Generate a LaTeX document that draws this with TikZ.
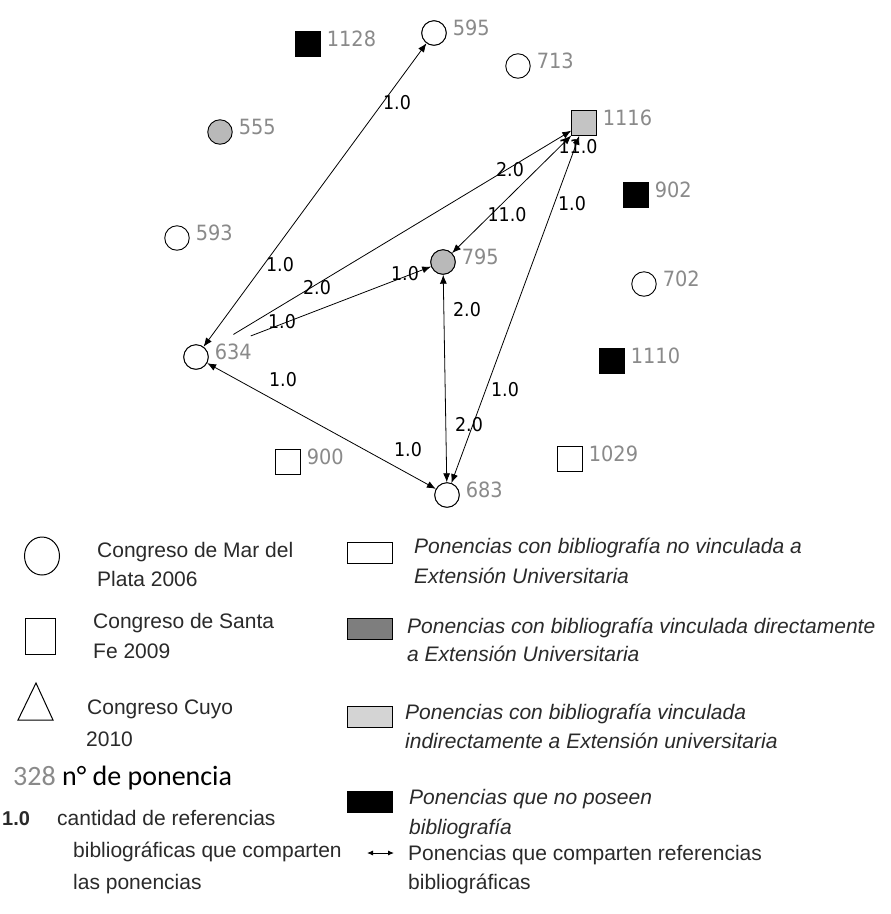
\documentclass[tikz,border=0pt]{standalone}
\usepackage{fontspec}
\setmainfont{Liberation Sans}
\newfontfamily\nodefont[FakeStretch=0.92]{DejaVu Sans}
\newfontfamily\calfont{Carlito}
\usetikzlibrary{arrows.meta,shapes.geometric}
\definecolor{labgray}{HTML}{8A8A8A}
\definecolor{midgray}{HTML}{B9B9B9}
\definecolor{ltgray}{HTML}{C4C4C4}
\definecolor{legdark}{HTML}{7E7E7E}
\definecolor{leglight}{HTML}{D4D4D4}
\definecolor{legtext}{HTML}{2A2A2A}
\tikzset{
  circ/.style={circle, draw, line width=0.9pt, minimum size=24.5pt, inner sep=0pt, fill=white},
  sq/.style={rectangle, draw, line width=0.9pt, minimum size=24.5pt, inner sep=0pt, fill=white},
  nlab/.style={anchor=west, inner sep=0pt, text=labgray, font=\nodefont\fontsize{21}{21}\selectfont},
  elab/.style={inner sep=0pt, text=black, font=\nodefont\fontsize{19}{19}\selectfont},
  arr/.style={-{Latex[length=9pt,width=7pt]}, line width=0.8pt},
  biarr/.style={{Latex[length=9pt,width=7pt]}-{Latex[length=9pt,width=7pt]}, line width=0.8pt},
  ltext/.style={anchor=base west, inner sep=0pt, text=legtext, font=\fontsize{21}{21}\selectfont},
  rtext/.style={anchor=base west, inner sep=0pt, text=legtext, font=\itshape\fontsize{21}{21}\selectfont},
  legbox/.style={draw, line width=1pt, minimum width=45pt, minimum height=21pt, inner sep=0pt},
}
\begin{document}
\begin{tikzpicture}[x=1pt,y=-1pt]
\fill[white] (0,0) rectangle (891,914);
\useasboundingbox (0,0) rectangle (891,914);

% ---------- graph nodes ----------
\node[sq, fill=black] (n1128) at (308,44) {};
\node[circ] (n595) at (434,33) {};
\node[circ, fill=midgray] (n555) at (220,132) {};
\node[circ] (n713) at (518,66) {};
\node[sq, fill=ltgray] (n1116) at (584,123) {};
\node[sq, fill=black] (n902) at (636,195) {};
\node[circ] (n593) at (177,238) {};
\node[circ, fill=midgray] (n795) at (443,262) {};
\node[circ] (n702) at (644,284) {};
\node[circ] (n634) at (196,357) {};
\node[sq, fill=black] (n1110) at (612,361) {};
\node[sq] (n900) at (288,462) {};
\node[sq] (n1029) at (570,459) {};
\node[circ] (n683) at (447,495) {};

% ---------- connectors ----------
\draw[biarr] (n634) -- (n595);
\draw[arr, shorten <=31pt] (n634) -- (n1116);
\draw[arr, shorten <=46pt] (n634) -- (n795);
\draw[biarr] (n634) -- (n683);
\draw[biarr] (n795) -- (n683);
\draw[biarr] (n1116) -- (n683);
\draw[biarr] (n795) -- (n1116);

% redraw nodes on top
\node[sq, fill=ltgray] at (n1116) {};
\node[circ, fill=midgray] at (n795) {};
\node[circ] at (n634) {};
\node[circ] at (n683) {};
\node[circ] at (n595) {};

% ---------- node labels ----------
\foreach \n in {1128,595,555,713,1116,902,593,795,702,634,1110,900,1029,683}{
  \node[nlab] (l\n) at ([xshift=6pt,yshift=5pt]n\n.east) {\n};
}

% ---------- connector labels ----------
\node[elab] (e1a) at (397,103) {1.0};
\node[elab] (e1b) at (280,265) {1.0};
\node[elab] (e2a) at (510,170) {2.0};
\node[elab] (e2b) at (317,288) {2.0};
\node[elab] (e3a) at (405,274) {1.0};
\node[elab] (e3b) at (282,322) {1.0};
\node[elab] (e4a) at (283,380) {1.0};
\node[elab] (e4b) at (408,450) {1.0};
\node[elab] (e5a) at (467,310) {2.0};
\node[elab] (e5b) at (469,425) {2.0};
\node[elab] (e6a) at (572,204) {1.0};
\node[elab] (e6b) at (505,390) {1.0};
\node[elab] (e7a) at (507,215) {11.0};
\node[elab] (e7b) at (578,147) {11.0};

% ---------- legend, left column ----------
\node[draw, ellipse, line width=1pt, minimum width=35pt, minimum height=38pt, inner sep=0pt] (legC) at (42,556) {};
\node[ltext] (t1) at (97,557) {Congreso de Mar del};
\node[ltext] (t2) at (97,586) {Plata 2006};
\node[draw, line width=1pt, minimum width=30pt, minimum height=36pt, inner sep=0pt] (legS) at (40,636) {};
\node[ltext] (t3) at (93,628) {Congreso de Santa};
\node[ltext] (t4) at (93,658) {Fe 2009};
\draw[line width=1pt] (18,720) -- (36,683) -- (53,720) -- cycle;
\node[ltext] (t5) at (87,714) {Congreso Cuyo};
\node[ltext] (t6) at (86,746) {2010};
\node[anchor=base west, inner sep=0pt, font=\calfont\fontsize{28}{28}\selectfont] (t7) at (13,785) {\textcolor{labgray}{328} n° de ponencia};
\node[anchor=base west, inner sep=0pt, text=legtext, font=\bfseries\fontsize{20}{20}\selectfont] (t8) at (2,825) {1.0};
\node[ltext] (t9) at (57,825) {cantidad de referencias};
\node[ltext] (t10) at (73,857) {bibliográficas que comparten};
\node[ltext] (t11) at (73,889) {las ponencias};

% ---------- legend, right column ----------
\node[legbox, fill=white] (b1) at (370,553) {};
\node[rtext] (r1) at (414,553) {Ponencias con bibliografía no vinculada a};
\node[rtext] (r2) at (414,583) {Extensión Universitaria};
\node[legbox, fill=legdark] (b2) at (370,629) {};
\node[rtext] (r3) at (407,633) {Ponencias con bibliografía vinculada directamente};
\node[rtext] (r4) at (407,661) {a Extensión Universitaria};
\node[legbox, fill=leglight] (b3) at (370,717) {};
\node[rtext] (r5) at (405,719) {Ponencias con bibliografía vinculada};
\node[rtext] (r6) at (405,748) {indirectamente a Extensión universitaria};
\node[legbox, fill=black] (b4) at (370,802) {};
\node[rtext] (r7) at (409,804) {Ponencias que no poseen};
\node[rtext] (r8) at (409,834) {bibliografía};
\coordinate (da1) at (367,853);
\coordinate (da2) at (394,853);
\draw[{Latex[length=6pt,width=5pt]}-{Latex[length=6pt,width=5pt]}, line width=0.9pt] (da1) -- (da2);
\node[ltext] (r9) at (408,860) {Ponencias que comparten referencias};
\node[ltext] (r10) at (408,889) {bibliográficas};
\end{tikzpicture}
\end{document}
